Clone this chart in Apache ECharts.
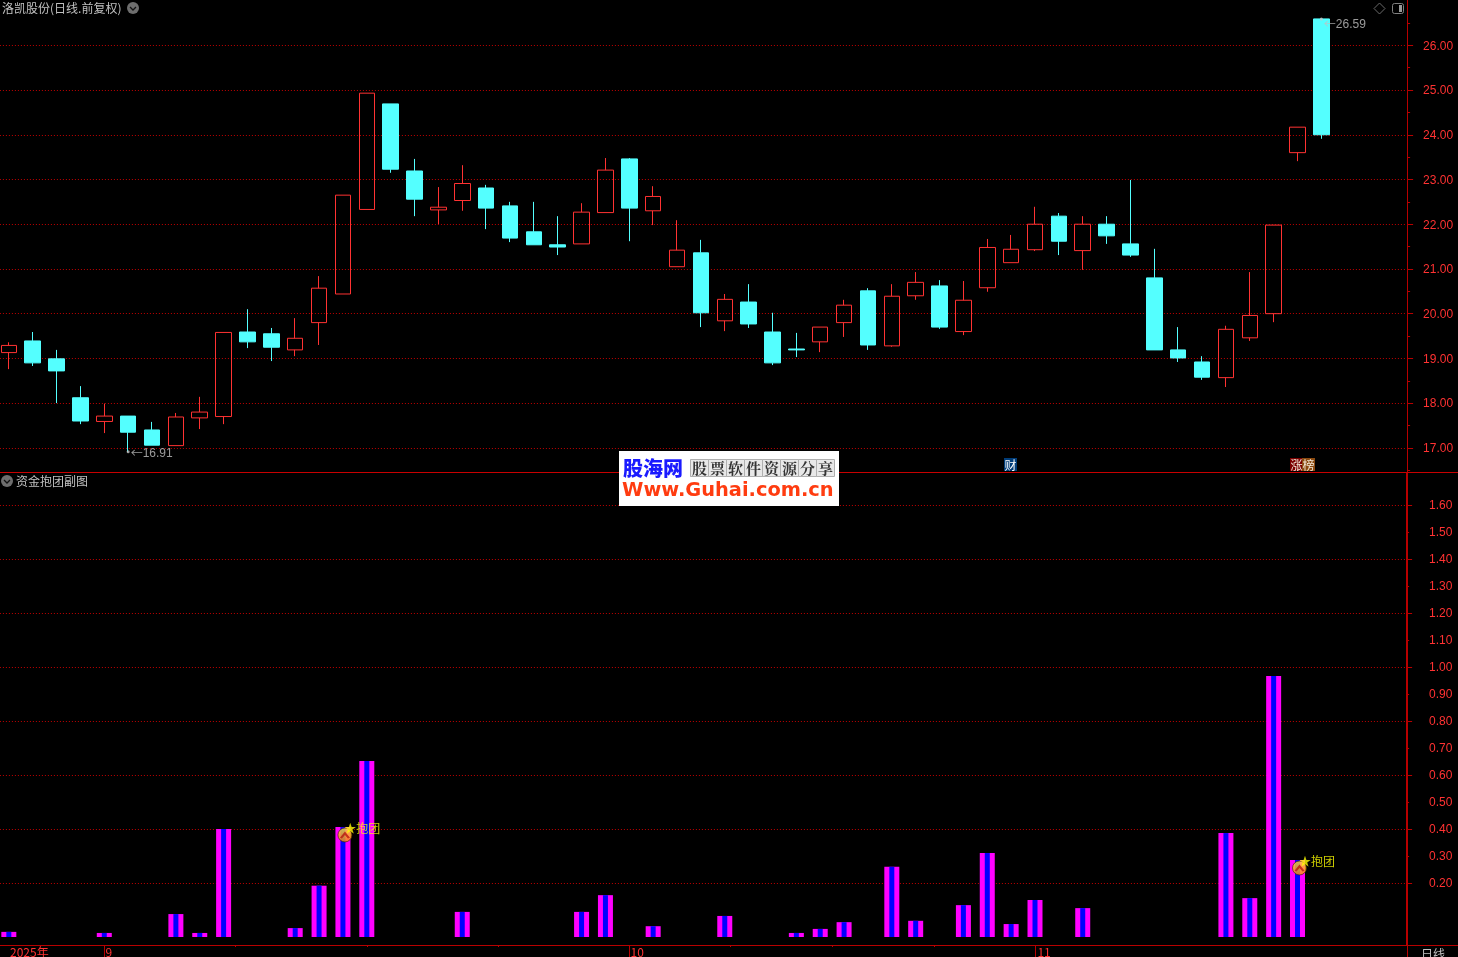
<!DOCTYPE html>
<html><head><meta charset="utf-8">
<style>html,body{margin:0;padding:0;background:#000;overflow:hidden}#c{width:1458px;height:957px}</style>
<script src="https://cdn.jsdelivr.net/npm/echarts@6/dist/echarts.min.js"></script>
</head><body><div id="c"></div>
<script>
// ---- data ----
const opens  = [19.13,19.39,18.99,18.12,17.59,17.71,17.40,17.05,17.67,17.70,19.59,19.55,19.19,19.80,20.44,22.33,24.69,23.19,22.32,22.53,22.81,22.41,21.83,21.54,21.56,22.26,23.46,22.30,21.05,21.36,19.84,20.26,19.59,19.21,19.37,19.80,20.51,19.28,20.40,20.62,19.60,20.58,21.14,21.43,22.18,21.41,22.00,21.56,20.80,19.19,18.92,18.57,19.46,20.00,23.60,26.59];
const closes = [19.29,18.90,18.72,17.60,17.71,17.35,17.06,17.69,17.80,19.58,19.37,19.25,19.45,20.57,22.65,24.93,23.23,22.56,22.38,22.91,22.36,21.69,21.54,21.49,22.27,23.21,22.36,22.62,21.42,20.02,20.32,19.77,18.90,19.19,19.70,20.19,19.30,20.39,20.70,19.70,20.30,21.48,21.44,22.00,21.62,22.00,21.74,21.31,19.19,19.01,18.58,19.65,19.96,21.98,24.17,24.00];
const lows   = [18.76,18.83,18.00,17.53,17.33,16.91,17.06,17.05,17.42,17.53,19.23,18.94,19.05,19.30,20.44,22.33,23.15,22.18,22.00,22.30,21.89,21.60,21.54,21.31,21.56,22.26,21.62,21.98,21.05,19.70,19.61,19.68,18.85,19.03,19.14,19.48,19.19,19.26,20.31,19.66,19.52,20.49,21.14,21.40,21.31,20.98,21.56,21.27,19.19,18.92,18.52,18.36,19.39,19.81,23.41,23.91];
const highs  = [19.36,19.59,19.19,18.38,17.99,17.71,17.58,17.78,18.14,19.58,20.10,19.68,19.90,20.84,22.65,24.93,24.69,23.46,22.83,23.32,22.88,22.50,22.50,22.18,22.47,23.48,23.48,22.85,22.09,21.65,20.44,20.66,20.02,19.57,19.70,20.31,20.57,20.66,20.93,20.75,20.73,21.67,21.76,22.39,22.25,22.18,22.18,22.99,21.45,19.70,19.05,19.73,20.93,21.98,24.17,26.59];
const flowBars = [0.019,null,null,null,0.015,null,null,0.085,0.015,0.40,null,null,0.033,0.19,0.407,0.652,null,null,null,0.093,null,null,null,null,0.093,0.155,null,0.04,null,null,0.078,null,null,0.015,0.03,0.055,null,0.26,0.06,null,0.118,0.311,0.048,0.137,null,0.107,null,null,null,null,null,0.385,0.144,0.967,0.285,null];
const signalPoints = [[14,0.378],[54,0.2556]];
const priceExtremes = [[5,16.91],[55,26.59]];
const priceTicks = [17,18,19,20,21,22,23,24,25,26];
const priceHalfTicks = [17.5,18.5,19.5,20.5,21.5,22.5,23.5,24.5,25.5,26.5,16.5];
const flowEvenTicks = [0.2,0.4,0.6,0.8,1.0,1.2,1.4,1.6];
const flowOddTicks = [0.3,0.5,0.7,0.9,1.1,1.3,1.5];
const monthPos = [4,26,43];
const monthLabelPos = [0.05,4.05,26.05,43.1];
const monthLabels = ['2025年','9','10','11'];
const minorDatePos = [9.47,15.02,20.5,30.25,34.5,38.78];
const slotCount = 59;
const categories = Array.from({length:slotCount},(_,i)=>String(i));

// ---- look ----
const RED='#ff3232', AX='#b80000', GRID='#c00000', CY='#54ffff', GREY='#c0c0c0';
const CJK='"Noto Sans CJK SC","Liberation Sans",sans-serif', NUM='"Liberation Sans",Arial,sans-serif';
const dotted={show:true,lineStyle:{color:GRID,width:1,type:[1,2]}};
const GL=-3.1, GW=1408;

const baseX=(g)=>({type:'category',gridIndex:g,data:categories,boundaryGap:true,show:false,position:'bottom',axisLine:{onZero:false}});
const valX=(vals,len,lab)=>({type:'value',gridIndex:1,min:-0.5,max:slotCount-0.5,position:'bottom',
  axisLine:{show:false,onZero:false},splitLine:{show:false},
  axisTick:{show:true,length:len,customValues:vals,lineStyle:{color:AX,width:1}},
  axisLabel:lab?{show:true,customValues:monthLabelPos,color:RED,fontSize:12,fontFamily:CJK,margin:1,align:'left',showMinLabel:true,showMaxLabel:true,
     formatter:(v)=>{const i=monthLabelPos.indexOf(v);return i>=0?monthLabels[i]:'';}}:{show:false}});
const rightY=(g,min,max,o)=>({type:'value',gridIndex:g,position:'right',offset:2.2,min,max,scale:true,
  axisLine:{show:o.line||false,onZero:false,lineStyle:{color:AX,width:o.lw||1}},
  axisTick:{show:true,length:o.tick,customValues:o.vals,lineStyle:{color:AX,width:1}},
  axisLabel:o.label?{show:true,customValues:o.vals,color:RED,fontSize:12,fontFamily:NUM,margin:o.margin,align:'left',verticalAlign:'top',lineHeight:2,formatter:v=>v.toFixed(2)}:{show:false},
  splitLine:o.split?dotted:{show:false}});

const PMIN=16.46,PMAX=27.013,FMIN=-0.0296,FMAX=1.7185;

const tagText=(x,y,t,f,c)=>({type:'text',z:90,x,y,style:{text:t,fill:c||GREY,font:f||('12px '+CJK),verticalAlign:'middle',align:'left'}});
const rect=(x,y,w,h,fill,z)=>({type:'rect',z:z||80,silent:true,shape:{x,y,width:w,height:h},style:{fill}});
const chevBtn=(cx,cy)=>[
 {type:'circle',z:90,shape:{cx,cy,r:6},style:{fill:'#6e6e6e'}},
 {type:'polyline',z:91,shape:{points:[[cx-3,cy-1],[cx,cy+2],[cx+3,cy-1]]},style:{stroke:'#111',lineWidth:1.3,fill:null}}];

const wmChars='股票软件资源分享'.split('');
const watermark=[rect(619,451,220,55,'#ffffff',100),
 {type:'text',z:101,x:623,y:468,style:{text:'股海网',fill:'#1a1aff',font:'900 20px '+CJK,verticalAlign:'middle'}},
 rect(690,459,144,18,'#e8e8e8',101)];
wmChars.forEach((c,i)=>{
  watermark.push({type:'rect',z:102,shape:{x:690.5+18*i,y:459.5,width:18,height:17},style:{fill:null,stroke:'#b0b0b0',lineWidth:1}});
  watermark.push({type:'text',z:103,x:699.5+18*i,y:468,style:{text:c,fill:'#333',font:'bold 15px "Noto Serif CJK SC","Noto Sans CJK SC"',align:'center',verticalAlign:'middle'}});
});
watermark.push({type:'text',z:101,x:622,y:491,style:{text:'Www.Guhai.com.cn',fill:'#ff3c10',font:'bold 19.4px "DejaVu Sans"',verticalAlign:'middle'}});

const extremeOffsets=[[1,2],[1,6]];
const option={
 backgroundColor:'#000',animation:false,
 grid:[{left:GL,top:0,width:GW,height:472,outerBoundsMode:'none'},{left:GL,top:473,width:GW,height:472,outerBoundsMode:'none'}],
 xAxis:[baseX(0),baseX(1),valX(monthPos,12,true),valX(minorDatePos,2,false),baseX(1)],
 yAxis:[
  rightY(0,PMIN,PMAX,{vals:priceTicks,tick:6,label:true,margin:16,split:true,line:true,lw:1}),
  rightY(0,PMIN,PMAX,{vals:priceHalfTicks,tick:3}),
  rightY(1,FMIN,FMAX,{vals:flowEvenTicks,tick:5,label:true,margin:22,split:true,line:true,lw:2}),
  rightY(1,FMIN,FMAX,{vals:flowOddTicks,tick:2,label:true,margin:22})
 ],
 series:[
  {type:'candlestick',xAxisIndex:0,yAxisIndex:0,barWidth:16,
   data:opens.map((o,i)=>[o,closes[i],lows[i],highs[i]]),
   itemStyle:{color:'transparent',color0:CY,borderColor:RED,borderColor0:CY,borderWidth:1}},
  {type:'scatter',xAxisIndex:0,yAxisIndex:0,symbol:'circle',symbolSize:3,itemStyle:{color:'#c8c8c8'},z:5,
   data:priceExtremes.map((v,i)=>({value:v,label:{offset:extremeOffsets[i]}})),
   label:{show:true,position:'right',distance:0,color:GREY,fontSize:12,fontFamily:NUM,
     formatter:p=>'{a|←}'+p.value[1].toFixed(2),rich:{a:{fontFamily:CJK,fontSize:12,color:GREY}}}},
  {type:'bar',xAxisIndex:1,yAxisIndex:2,barWidth:15,data:flowBars,itemStyle:{color:'#ff00ff'}},
  {type:'bar',xAxisIndex:4,yAxisIndex:2,barWidth:5,data:flowBars,z:3,itemStyle:{color:'#0000ff'}},
  {type:'scatter',xAxisIndex:1,yAxisIndex:2,symbol:'circle',symbolSize:14,symbolOffset:[2,0],z:6,data:signalPoints,
   itemStyle:{color:new echarts.graphic.LinearGradient(0,0,0,1,[{offset:0,color:'#ffee30'},{offset:1,color:'#ff8800'}]),borderColor:'#3a2000',borderWidth:0.8},
   label:{show:true,position:'right',distance:0,offset:[-8,-6.5],color:'#ffff00',fontSize:12,fontFamily:CJK,formatter:'★抱团'}},
  {type:'scatter',xAxisIndex:1,yAxisIndex:2,symbol:'path://M0 5 L5 0 L10 5 L8 5.6 L5 2.8 L2 5.6 Z',symbolSize:[10,7],symbolOffset:[2,0],z:7,data:signalPoints,
   itemStyle:{color:'#b81810'}}
 ],
 graphic:{elements:[
  rect(0,472,1458,1,'#c80000'),
  rect(0,945,1458,1,AX),
  rect(1407,946,1,11,AX),
  tagText(2,8,'洛凯股份(日线.前复权)'),
  ...chevBtn(133,8),
  {type:'polygon',z:90,shape:{points:[[1379.5,3],[1385,8.5],[1379.5,14],[1374,8.5]]},style:{fill:null,stroke:'#6a6a6a',lineWidth:1}},
  {type:'rect',z:90,shape:{x:1392.5,y:3.5,width:11,height:10,r:2},style:{fill:null,stroke:'#808080',lineWidth:1}},
  rect(1399,5,3,7,'#9a9a9a',91),
  ...chevBtn(7,481),
  tagText(16,481,'资金抱团副图'),
  rect(1004,458,13,13,'#003c78'),
  tagText(1004.5,465,'财',null,'#ffffff'),
  rect(1290,458,12,13,'#7a0000'),
  rect(1302,458,13,13,'#8a4a10'),
  tagText(1290.5,465,'涨榜',null,'#f4e8d8'),
  tagText(1421,954,'日线'),
  ...watermark
 ]}
};
const chart=echarts.init(document.getElementById('c'),null,{renderer:'canvas'});
chart.setOption(option);
</script></body></html>
